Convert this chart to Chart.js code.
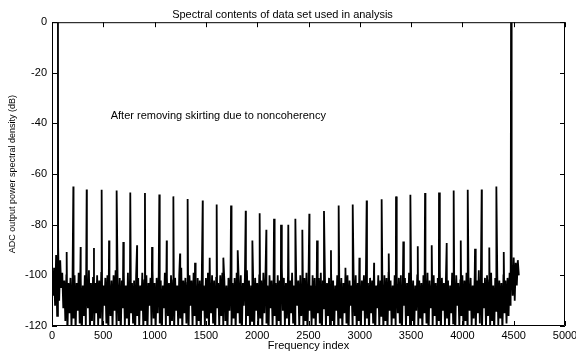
<!DOCTYPE html>
<html>
<head>
<meta charset="utf-8">
<script src="https://cdn.jsdelivr.net/npm/chart.js@4.4.1/dist/chart.umd.min.js"></script>
<style>
  html, body { margin: 0; padding: 0; background: #fff; }
  #wrap { width: 576px; height: 351px; }
</style>
</head>
<body>
<div id="wrap"><canvas id="psd" width="576" height="351"></canvas></div>
<script>
// noise floor: upper and lower excursions, sampled every noiseStep bins
const noiseStep = 20;
const noiseTop = [
  -101, -97, -92, -89, -94, -99, -102, -100, -103, -101,
  -102, -100, -103, -99, -101, -104, -100, -102, -98, -103,
  -101, -103, -100, -102, -99, -104, -101, -100, -103, -102,
  -100, -98, -103, -101, -102, -100, -104, -99, -101, -103,
  -102, -100, -101, -104, -99, -102, -100, -103, -101, -98,
  -103, -101, -100, -102, -104, -99, -101, -103, -100, -102,
  -101, -104, -100, -97, -102, -101, -103, -100, -102, -99,
  -103, -101, -102, -100, -104, -101, -99, -103, -100, -102,
  -101, -103, -100, -99, -102, -104, -101, -100, -103, -101,
  -99, -102, -100, -103, -101, -98, -102, -104, -100, -101,
  -103, -100, -102, -99, -101, -104, -100, -102, -101, -103,
  -100, -102, -97, -101, -103, -100, -102, -99, -104, -101,
  -102, -100, -103, -101, -99, -102, -104, -100, -101, -103,
  -101, -99, -102, -100, -103, -101, -98, -102, -104, -100,
  -102, -101, -103, -99, -100, -102, -104, -101, -100, -103,
  -101, -102, -100, -98, -103, -101, -102, -99, -104, -100,
  -102, -103, -100, -101, -99, -102, -104, -100, -103, -101,
  -100, -102, -101, -103, -99, -101, -102, -104, -100, -102,
  -103, -100, -101, -99, -102, -104, -100, -103, -101, -98,
  -101, -103, -100, -102, -104, -99, -101, -100, -103, -102,
  -100, -102, -99, -103, -101, -104, -100, -102, -98, -101,
  -103, -101, -100, -102, -99, -104, -101, -100, -102, -103,
  -100, -102, -101, -99, -96, -93, -95, -94
];
const noiseBottom = [
  -108, -112, -116, -110, -105, -113, -118, -124, -115, -121,
  -117, -123, -114, -119, -125, -116, -121, -113, -122, -118,
  -124, -115, -120, -117, -123, -112, -119, -125, -116, -121,
  -114, -122, -118, -124, -113, -120, -117, -123, -115, -119,
  -125, -116, -121, -114, -122, -118, -124, -112, -120, -117,
  -123, -115, -119, -125, -113, -121, -116, -122, -118, -124,
  -114, -120, -117, -123, -115, -119, -125, -112, -121, -116,
  -122, -118, -124, -114, -120, -117, -123, -115, -119, -125,
  -113, -121, -116, -122, -118, -124, -114, -120, -117, -123,
  -115, -119, -125, -112, -121, -116, -122, -118, -124, -114,
  -120, -117, -123, -115, -119, -125, -113, -121, -116, -122,
  -118, -124, -114, -120, -117, -123, -115, -119, -125, -112,
  -121, -116, -122, -118, -124, -114, -120, -117, -123, -115,
  -119, -125, -113, -121, -116, -122, -118, -124, -114, -120,
  -117, -123, -115, -119, -125, -112, -121, -116, -122, -118,
  -124, -114, -120, -117, -123, -115, -119, -125, -113, -121,
  -116, -122, -118, -124, -114, -120, -117, -123, -115, -119,
  -125, -112, -121, -116, -122, -118, -124, -114, -120, -117,
  -123, -115, -119, -125, -113, -121, -116, -122, -118, -124,
  -114, -120, -117, -123, -115, -119, -125, -112, -121, -116,
  -122, -118, -124, -114, -120, -117, -123, -115, -119, -125,
  -113, -121, -116, -122, -118, -124, -114, -120, -117, -123,
  -115, -119, -116, -112, -108, -110, -104, -100
];

// carrier bins (clipped at 0 dB)
const carrierIndex = [58, 4474];
const carrierDb = [0, 0];

// harmonic tones, first family (strong on the left)
const toneAIndex = [208, 338, 484, 630, 763, 906, 1046, 1183, 1322, 1469,
  1605, 1745, 1888, 2024, 2164, 2303, 2440, 2583, 2719, 2860,
  2996, 3139, 3282, 3424, 3565, 3701, 3847, 3984, 4123, 4262, 4403];
const toneADb = [-64.9, -66.1, -66.2, -66.5, -67.3, -67.5, -68.1, -68.8, -69.8, -70.4,
  -72, -72.4, -74.5, -75.5, -77.6, -80, -82, -86.2, -90.1, -97,
  -93, -95, -91.4, -86.6, -88.5, -88.1, -87.2, -86.2, -89.5, -89, -90.8];

// second family (strong on the right)
const toneBIndex = [143, 279, 409, 556, 695, 829, 975, 1118, 1248, 1394,
  1537, 1670, 1810, 1953, 2089, 2232, 2372, 2508, 2651, 2794,
  2931, 3067, 3213, 3353, 3493, 3636, 3772, 3915, 4052, 4188, 4331];
const toneBDb = [-90.8, -88.8, -89.2, -86.2, -86.8, -88.1, -88.8, -86.2, -91.4, -95,
  -93, -93, -90.1, -86.2, -82, -80, -77.6, -75.7, -74.6, -72.4,
  -72, -70.4, -69.9, -68.8, -68.2, -67.5, -67.3, -66.5, -66.2, -66.1, -64.9];

const xTicks = [0, 500, 1000, 1500, 2000, 2500, 3000, 3500, 4000, 4500, 5000];
const yTicks = [0, -20, -40, -60, -80, -100, -120];

const noteText = 'After removing skirting due to noncoherency';
const notePos = { x: 572, y: -37 };

// merge everything into one trace, sorted by bin
const spectrum = [];
noiseTop.forEach((v, i) => spectrum.push({ x: i * noiseStep, y: v }));
noiseBottom.forEach((v, i) => spectrum.push({ x: i * noiseStep + noiseStep / 2, y: v }));
carrierIndex.forEach((f, i) => spectrum.push({ x: f, y: carrierDb[i] }));
toneAIndex.forEach((f, i) => spectrum.push({ x: f, y: toneADb[i] }));
toneBIndex.forEach((f, i) => spectrum.push({ x: f, y: toneBDb[i] }));
spectrum.sort((a, b) => a.x - b.x);

const FONT = '"Liberation Sans", Arial, Helvetica, sans-serif';
Chart.defaults.font.family = FONT;
Chart.defaults.color = '#000';

// matlab style box with inward ticks + text note
const boxPlugin = {
  id: 'matlabBox',
  afterDatasetsDraw(chart) {
    const { ctx, chartArea: { left, right, top, bottom }, scales: { x, y } } = chart;
    const len = 5;
    ctx.save();
    ctx.strokeStyle = '#000';
    ctx.lineWidth = 1;
    ctx.beginPath();
    ctx.rect(left + 0.5, top + 0.5, right - left - 1, bottom - top - 1);
    xTicks.forEach(v => {
      const px = Math.round(x.getPixelForValue(v)) + 0.5;
      ctx.moveTo(px, bottom); ctx.lineTo(px, bottom - len);
      ctx.moveTo(px, top); ctx.lineTo(px, top + len);
    });
    yTicks.forEach(v => {
      const py = Math.round(y.getPixelForValue(v)) + 0.5;
      ctx.moveTo(left, py); ctx.lineTo(left + len, py);
      ctx.moveTo(right, py); ctx.lineTo(right - len, py);
    });
    ctx.stroke();

    ctx.fillStyle = '#000';
    ctx.font = '11px ' + FONT;
    ctx.textAlign = 'left';
    ctx.textBaseline = 'middle';
    ctx.fillText(noteText, x.getPixelForValue(notePos.x), y.getPixelForValue(notePos.y));
    ctx.restore();
  }
};

new Chart(document.getElementById('psd'), {
  type: 'line',
  data: {
    datasets: [{
      data: spectrum,
      borderColor: '#000',
      borderWidth: 1.8,
      pointRadius: 0,
      tension: 0,
      fill: false,
      clip: 0
    }]
  },
  options: {
    responsive: false,
    animation: false,
    events: [],
    parsing: false,
    layout: { padding: { left: 0, right: 11, top: 0, bottom: 0 } },
    plugins: {
      legend: { display: false },
      tooltip: { enabled: false },
      title: {
        display: true,
        text: 'Spectral contents of data set used in analysis',
        font: { size: 11, weight: 'normal' },
        padding: { top: 8, bottom: 1 }
      }
    },
    scales: {
      x: {
        type: 'linear',
        min: 0,
        max: 5000,
        afterBuildTicks(scale) { scale.ticks = xTicks.map(v => ({ value: v })); },
        afterFit(scale) { scale.height = 25; scale.paddingLeft = 0; scale.paddingRight = 0; },
        grid: { display: false, drawTicks: false, tickLength: 0 },
        border: { display: false },
        ticks: {
          font: { size: 11 },
          padding: 3,
          maxRotation: 0,
          autoSkip: false,
          callback: v => String(v)
        },
        title: {
          display: true,
          text: 'Frequency index',
          font: { size: 11, lineHeight: 1 },
          padding: { top: 0, bottom: 0 }
        }
      },
      y: {
        type: 'linear',
        min: -120,
        max: 0,
        afterBuildTicks(scale) { scale.ticks = yTicks.map(v => ({ value: v })); },
        afterFit(scale) { scale.width = 52; scale.paddingTop = 0; scale.paddingBottom = 0; },
        grid: { display: false, drawTicks: false, tickLength: 0 },
        border: { display: false },
        ticks: {
          font: { size: 11 },
          padding: 5,
          callback: v => String(v)
        },
        title: {
          display: true,
          text: 'ADC output power spectral density (dB)',
          font: { size: 9 },
          padding: { top: 7, bottom: 0 }
        }
      }
    }
  },
  plugins: [boxPlugin]
});
</script>
</body>
</html>
